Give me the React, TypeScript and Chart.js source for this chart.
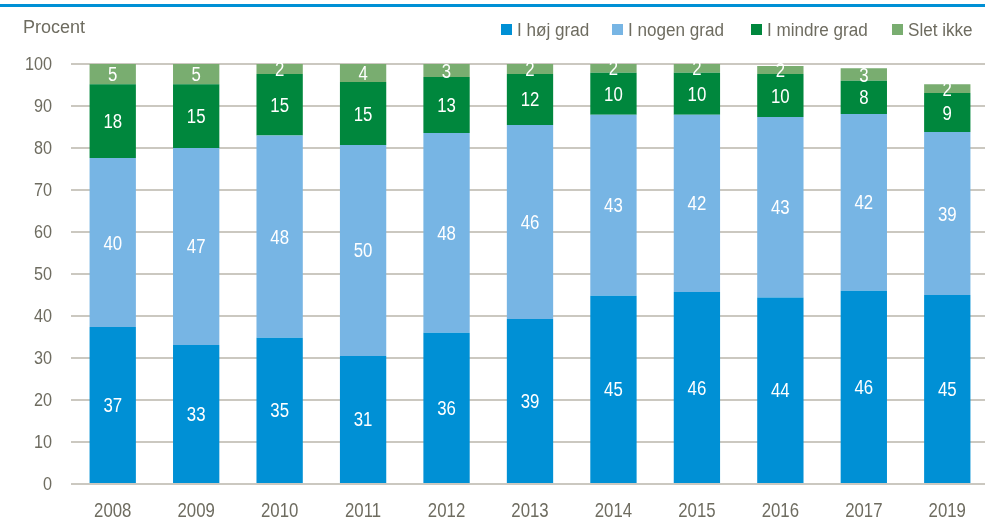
import React, { useEffect, useRef } from "react";
import { Chart, registerables } from "chart.js";

Chart.register(...registerables);

const years = ["2008", "2009", "2010", "2011", "2012", "2013", "2014", "2015", "2016", "2017", "2019"];
const hojGrad = [37.4, 33.1, 34.8, 30.5, 36.0, 39.3, 44.8, 45.7, 44.4, 46.0, 45.0];
const nogenGrad = [40.2, 46.9, 48.2, 50.2, 47.6, 46.2, 43.1, 42.2, 43.0, 42.1, 38.8];
const mindreGrad = [17.6, 15.2, 14.6, 15.0, 13.3, 12.1, 10.0, 10.0, 10.2, 7.9, 9.3];
const sletIkke = [4.8, 4.8, 2.4, 4.3, 3.1, 2.4, 2.1, 2.1, 1.9, 3.0, 2.1];
const seriesNames = ["I høj grad", "I nogen grad", "I mindre grad", "Slet ikke"];
const colors = ["#0090d5", "#77b5e4", "#00873d", "#79ad70"];
const yTicks = [0, 10, 20, 30, 40, 50, 60, 70, 80, 90, 100];
const axisTitle = "Procent";

const FONT = "'Liberation Sans', Arial, sans-serif";
const GREY = "#6e6c60";

function drawText(ctx: any, text: string, x: number, y: number, size: number, sx: number, align: string, color: string) {
  ctx.save();
  ctx.font = `${size}px ${FONT}`;
  ctx.fillStyle = color;
  ctx.textBaseline = "alphabetic";
  ctx.textAlign = align;
  ctx.translate(x, y);
  ctx.scale(sx, 1);
  ctx.fillText(text, 0, 0);
  ctx.restore();
}

const textPlugin = {
  id: "customText",
  afterDraw(chart: any) {
    const ctx = chart.ctx;
    // segment labels
    chart.data.datasets.forEach((ds: any, i: number) => {
      const meta = chart.getDatasetMeta(i);
      meta.data.forEach((bar: any, j: number) => {
        const v = ds.data[j];
        drawText(ctx, String(Math.round(v)), bar.x, (bar.y + bar.base) / 2 + 7, 20, 0.84, "center", "#ffffff");
      });
    });
    // y ticks
    const ys = chart.scales.y;
    yTicks.forEach((v) => {
      drawText(ctx, String(v), 52, ys.getPixelForValue(v) + 6.3, 18, 0.9, "right", GREY);
    });
    // x ticks
    const xs = chart.scales.x;
    years.forEach((y, i) => {
      drawText(ctx, y, xs.getPixelForValue(i), 517, 21, 0.8, "center", GREY);
    });
    // axis title
    drawText(ctx, axisTitle, 23, 33, 18, 1, "left", GREY);
    // legend
    const legendX = [501, 612, 751, 892];
    seriesNames.forEach((n, i) => {
      ctx.save();
      ctx.fillStyle = colors[i];
      ctx.fillRect(legendX[i], 24, 11, 11);
      ctx.restore();
      drawText(ctx, n, legendX[i] + 16, 36, 18, 0.95, "left", GREY);
    });
  },
};

export default function App() {
  const ref = useRef<HTMLCanvasElement>(null);
  useEffect(() => {
    document.body.style.margin = "0";
    document.body.style.overflow = "hidden";
    const data = [hojGrad, nogenGrad, mindreGrad, sletIkke];
    const chart = new Chart(ref.current!, {
      type: "bar",
      data: {
        labels: years,
        datasets: data.map((d, i) => ({
          label: seriesNames[i],
          data: d,
          backgroundColor: colors[i],
          borderWidth: 0,
          barPercentage: 0.555,
          categoryPercentage: 1,
        })),
      },
      options: {
        animation: false,
        responsive: false,
        maintainAspectRatio: false,
        layout: { padding: { top: 64, right: 0, bottom: 0, left: 0 } },
        plugins: { legend: { display: false }, tooltip: { enabled: false } },
        scales: {
          x: {
            stacked: true,
            grid: { display: false, drawTicks: false },
            border: { display: false },
            ticks: { display: false },
            afterFit: (s: any) => { s.height = 38; },
          },
          y: {
            stacked: true,
            min: 0,
            max: 100,
            afterBuildTicks: (s: any) => { s.ticks = yTicks.map((v) => ({ value: v })); },
            grid: { color: "#cbc8c0", lineWidth: 2, drawTicks: false },
            border: { display: false },
            ticks: { display: false },
            afterFit: (s: any) => { s.width = 71; },
          },
        },
      },
      plugins: [textPlugin],
    });
    return () => chart.destroy();
  }, []);

  return (
    <div style={{ position: "relative", width: 985, height: 522, overflow: "hidden" }}>
      <div style={{ position: "absolute", left: 0, top: 4, width: 985, height: 3, background: "#0090d5" }} />
      <canvas ref={ref} width={989} height={522} style={{ position: "absolute", left: 0, top: 0, width: 989, height: 522 }} />
    </div>
  );
}
